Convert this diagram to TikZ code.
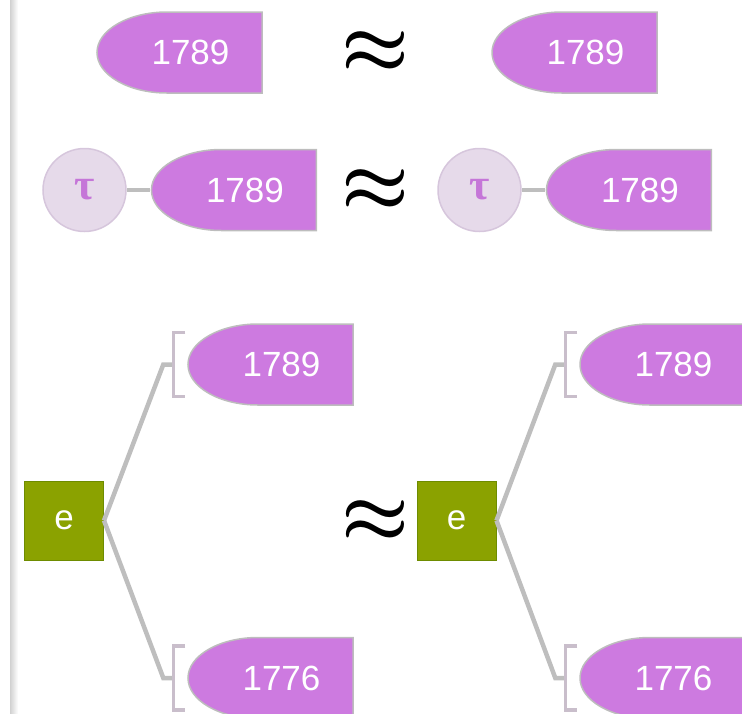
\documentclass[tikz,border=0pt]{standalone}
\usepackage{fontspec}
\setmainfont{Liberation Sans}
\newfontfamily\greekfont{Liberation Serif}
\usetikzlibrary{positioning}

\definecolor{datumfill}{HTML}{CD7AE0}
\definecolor{datumline}{HTML}{BDBDBD}
\definecolor{taufill}{HTML}{E6DAEA}
\definecolor{tauline}{HTML}{D6C6DC}
\definecolor{taufont}{HTML}{C576D8}
\definecolor{entfill}{HTML}{8BA200}
\definecolor{entline}{HTML}{6E8C00}
\definecolor{linkgray}{HTML}{BEBEBE}
\definecolor{bracegray}{HTML}{C9BECB}

\tikzset{
  % rounded on the left, square on the right
  datum/.style={minimum width=168pt, minimum height=84pt, inner sep=0pt,
    text=white, font=\fontsize{35}{35}\selectfont,
    path picture={\draw[draw=datumline, fill=datumfill, line width=1.5pt]
      ([shift={(-1.5pt,-1.5pt)}]path picture bounding box.north east)
      -- ([shift={(-1.5pt,1.5pt)}]path picture bounding box.south east)
      -- ++(-95pt,0pt)
      arc[start angle=270, end angle=90, x radius=70pt, y radius=40.5pt]
      -- cycle;}},
  typecirc/.style={circle, minimum size=83pt, inner sep=0pt, fill=taufill,
    draw=tauline, line width=1.5pt, text=taufont,
    font=\greekfont\bfseries\fontsize{44}{44}\selectfont},
  entity/.style={rectangle, minimum size=79pt, inner sep=0pt, fill=entfill,
    draw=entline, line width=1pt, text=white, font=\fontsize{35}{35}\selectfont},
  approx/.style={inner sep=2pt},
  link/.style={draw=linkgray, line width=4.5pt},
  brace/.style={draw=bracegray, line width=3.5pt}
}

\newcommand{\approxsign}{\scalebox{7.6}{\boldmath$\approx$}}

\begin{document}
\begin{tikzpicture}[x=1pt, y=1pt, node distance=23pt]
  \useasboundingbox (0,0) rectangle (742,-713);
  % shaded rule down the left edge
  \fill[left color=black!18, right color=white] (10,0) rectangle (18,-713);

  % plain values
  \node[datum] (v1) at (179.5,-52.5) {\hspace*{22pt}1789};
  \node[approx] (a1) at (375,-52.5) {\approxsign};
  \node[datum] (v2) at (574.5,-52.5) {\hspace*{22pt}1789};

  % typed values
  \node[typecirc] (t1) at (84.5,-190) {τ};
  \node[datum] (v3) [right=of t1] {\hspace*{22pt}1789};
  \node[approx] (a2) at (375,-190) {\approxsign};
  \node[typecirc] (t2) at (479.5,-190) {τ};
  \node[datum] (v4) [right=of t2] {\hspace*{22pt}1789};

  \draw[link] (t1) -- (v3);
  \draw[link] (t2) -- (v4);

  % entities with two values
  \node[entity] (e1) at (64,-520.5) {e};
  \node[datum] (u1) at (270.5,-364.5) {\hspace*{22pt}1789};
  \node[datum] (l1) at (270.5,-678) {\hspace*{22pt}1776};
  \node[approx] (a3) at (375,-521) {\approxsign};
  \node[entity] (e2) at (456.5,-520.5) {e};
  \node[datum] (u2) at (662.5,-364.5) {\hspace*{22pt}1789};
  \node[datum] (l2) at (662.5,-678) {\hspace*{22pt}1776};

  \foreach \e/\v in {e1/u1, e1/l1, e2/u2, e2/l2} {
    \draw[link] (\e.east) -- ([xshift=-23pt]\v.west) -- ([xshift=-12pt]\v.west);
    \draw[brace] ([shift={(-1pt,32pt)}]\v.west) -- ++(-12pt,0pt)
      |- ([shift={(-1pt,-32pt)}]\v.west);
  }
\end{tikzpicture}
\end{document}
